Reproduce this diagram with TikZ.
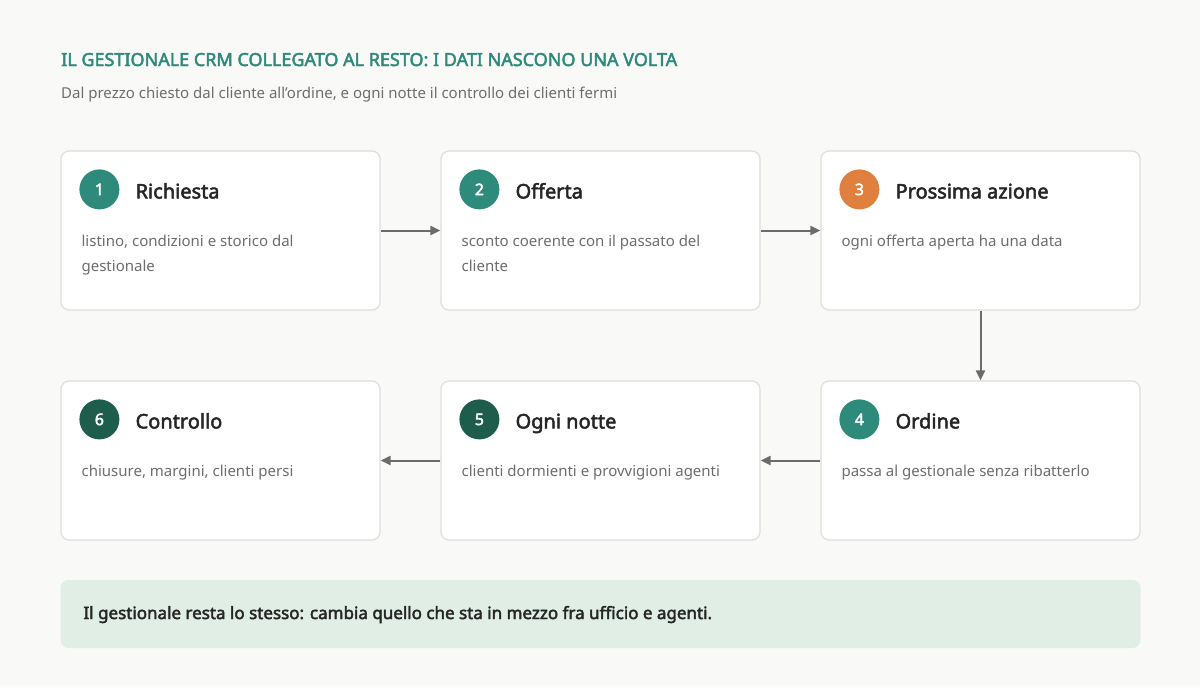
\documentclass[tikz,border=0pt]{standalone}
\usepackage{fontspec}
\setmainfont{Noto Sans}[BoldFont={Noto Sans}, BoldFeatures={FakeBold=2.5}]
\usepackage{xcolor}
\usetikzlibrary{positioning,calc,arrows.meta}
\definecolor{bgpage}{HTML}{F9F9F7}
\definecolor{teal}{HTML}{2E8A7A}
\definecolor{darkteal}{HTML}{1E5C4C}
\definecolor{orangeish}{HTML}{E0803F}
\definecolor{cardline}{HTML}{DEDEDA}
\definecolor{footfill}{HTML}{E0EEE6}
\definecolor{bodygray}{HTML}{6E6E6E}
\definecolor{arrowgray}{HTML}{6B6B6B}
\tikzset{
    card/.style = {
        draw=cardline, line width=1.2pt, fill=white,
        rounded corners=8pt,
        minimum width=319pt, minimum height=159pt,
        inner sep=0pt
    },
    badge/.style = {
        circle, fill=#1, minimum size=40pt, inner sep=0pt,
        text=white, font=\fontsize{16}{16}\selectfont\bfseries
    },
    cardtitle/.style = {
        anchor=base west, text=black!85, inner sep=0pt,
        font=\fontsize{20}{20}\selectfont\bfseries
    },
    cardbody/.style = {
        anchor=north west, text=bodygray, inner sep=0pt, align=left,
        font=\fontsize{15}{25}\selectfont
    },
    flow/.style = {
        -{Triangle[length=10pt,width=9pt]}, draw=arrowgray, line width=2pt
    }
}
\newcommand{\stepcard}[6]{%
    \node[card] (#1) at (#2) {};
    \node[badge=#3] (#1num) at ($(#1.north west)+(39,39)$) {#4};
    \node[cardtitle] (#1title) at ($(#1.north west)+(75,48)$) {#5};
    \node[cardbody] (#1body) at ($(#1.north west)+(21,84)$) {#6};
}
\begin{document}
\begin{tikzpicture}[x=1pt,y=-1pt]
    \fill[bgpage] (0,0) rectangle (1200,686);
    \useasboundingbox (0,0) rectangle (1200,686);

    \node[anchor=base west, inner sep=0pt, text=teal,
        font=\fontsize{18}{18}\selectfont\bfseries] (head) at (61,66)
        {IL GESTIONALE CRM COLLEGATO AL RESTO: I DATI NASCONO UNA VOLTA};
    \node[anchor=base west, inner sep=0pt, text=bodygray,
        font=\fontsize{15}{15}\selectfont] (subhead) at (61,98)
        {Dal prezzo chiesto dal cliente all'ordine, e ogni notte il controllo dei clienti fermi};

    % first row
    \stepcard{richiesta}{220.5,230.5}{teal}{1}{Richiesta}{listino, condizioni e storico dal\\gestionale}
    \stepcard{offerta}{600.5,230.5}{teal}{2}{Offerta}{sconto coerente con il passato del\\cliente}
    \stepcard{azione}{980.5,230.5}{orangeish}{3}{Prossima azione}{ogni offerta aperta ha una data}

    % second row
    \stepcard{ordine}{980.5,460.5}{teal}{4}{Ordine}{passa al gestionale senza ribatterlo}
    \stepcard{notte}{600.5,460.5}{darkteal}{5}{Ogni notte}{clienti dormienti e provvigioni agenti}
    \stepcard{controllo}{220.5,460.5}{darkteal}{6}{Controllo}{chiusure, margini, clienti persi}

    \draw[flow] (richiesta) -- (offerta);
    \draw[flow] (offerta) -- (azione);
    \draw[flow] (azione) -- (ordine);
    \draw[flow] (ordine) -- (notte);
    \draw[flow] (notte) -- (controllo);

    \node[fill=footfill, rounded corners=8pt, minimum width=1080pt,
        minimum height=68pt, inner sep=0pt] (foot) at (600.5,614) {};
    \node[anchor=base west, inner sep=0pt, text=black!85,
        font=\fontsize{17}{17}\selectfont\bfseries] (foottext) at ($(foot.west)+(23,5)$)
        {Il gestionale resta lo stesso: cambia quello che sta in mezzo fra ufficio e agenti.};
\end{tikzpicture}
\end{document}
